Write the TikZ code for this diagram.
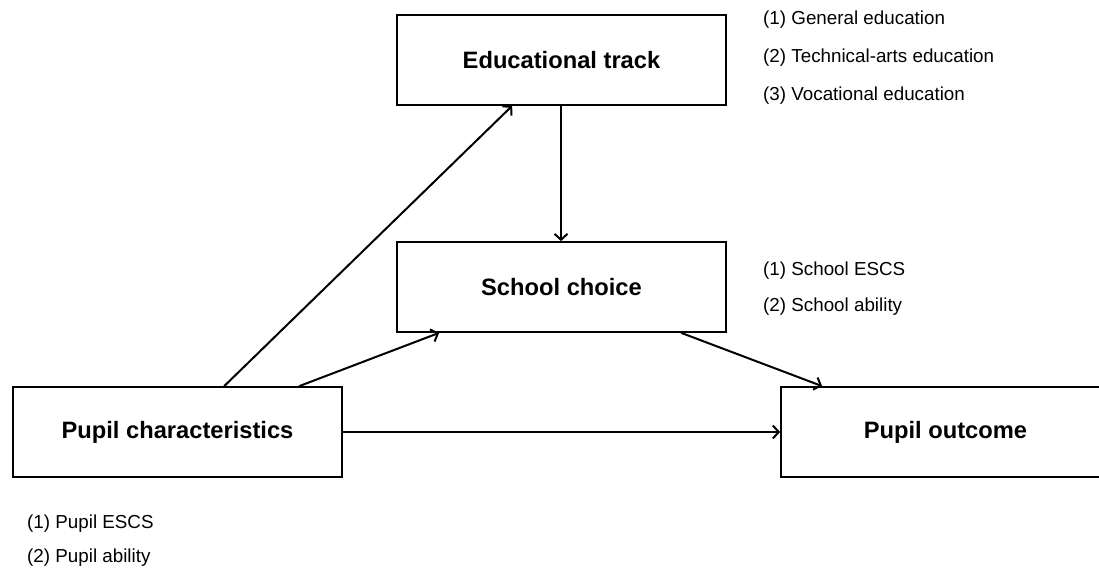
\documentclass[tikz,border=0pt]{standalone}
\usepackage{fontspec}
\setmainfont{Liberation Sans}
\usetikzlibrary{arrows.meta, positioning}
\tikzset{
	factor/.style ={rectangle, draw=black, line width=1.7pt, minimum width=329pt, minimum height=90pt, inner sep=0pt, font=\fontsize{23.7}{28}\selectfont\bfseries},
	itemline/.style={anchor=base west, inner sep=0pt, font=\fontsize{18.8}{22}\selectfont},
	link/.style    ={-{Straight Barb[length=6pt, width=13pt]}, line width=2pt},
}

\begin{document}
\begin{tikzpicture}[x=1pt, y=-1pt]
	\useasboundingbox (0,0) rectangle (1099,568);
	% factors
	\node[factor] (track) at (561.5,60) {Educational track};
	\node[factor] (choice) at (561.5,287) {School choice};
	\node[factor] (pupil) at (177.5,432) {Pupil characteristics};
	\node[factor] (outcome) at (945.5,432) {Pupil outcome};
	% measures of each factor
	\node[itemline] (track1) at (763,24) {(1) General education};
	\node[itemline] (track2) at (763,62) {(2) Technical-arts education};
	\node[itemline] (track3) at (763,100) {(3) Vocational education};
	\node[itemline] (choice1) at (763,275) {(1) School ESCS};
	\node[itemline] (choice2) at (763,311) {(2) School ability};
	\node[itemline] (pupil1) at (27,528) {(1) Pupil ESCS};
	\node[itemline] (pupil2) at (27,562) {(2) Pupil ability};
	% paths
	\draw[link] ([xshift=212pt]pupil.north west) -- ([xshift=116pt]track.south west);
	\draw[link] ([xshift=287pt]pupil.north west) -- ([xshift=43pt]choice.south west);
	\draw[link] ([xshift=-0.5pt]track.south) -- ([xshift=-0.5pt]choice.north);
	\draw[link] ([xshift=285pt]choice.south west) -- ([xshift=42pt]outcome.north west);
	\draw[link] (pupil.east) -- (pupil.east -| outcome.west);
\end{tikzpicture}
\end{document}
